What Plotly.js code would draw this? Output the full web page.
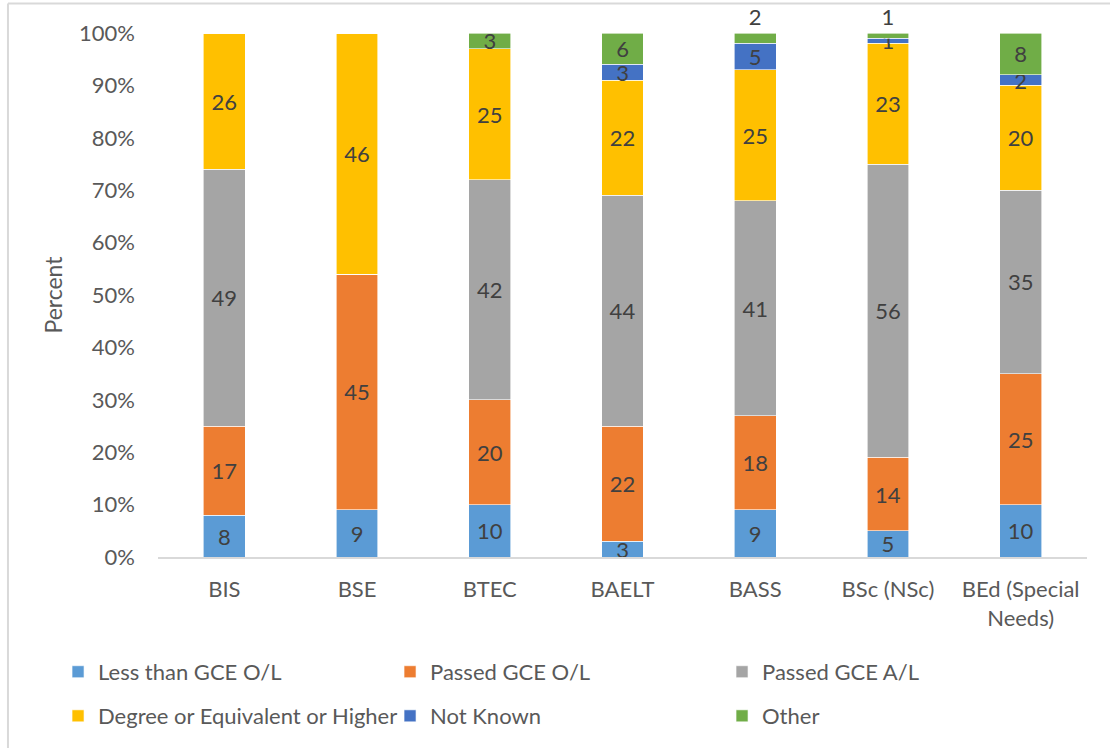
<!DOCTYPE html>
<html>
<head>
<meta charset="utf-8">
<script src="https://cdn.plot.ly/plotly-3.0.1.min.js"></script>
<style>
  html, body { margin: 0; padding: 0; background: #ffffff; }
  #chart { width: 1110px; height: 748px; }
</style>
</head>
<body>
<div id="chart"></div>
<script>
// Programmes on the x axis
const programmes = ['BIS', 'BSE', 'BTEC', 'BAELT', 'BASS', 'BSc (NSc)', 'BEd (Special<br>Needs)'];

// Share of students (%) in each qualification group, per programme
const lessThanOL   = [8, 9, 10, 3, 9, 5, 10];
const passedOL     = [17, 45, 20, 22, 18, 14, 25];
const passedAL     = [49, 0, 42, 44, 41, 56, 35];
const degreeHigher = [26, 46, 25, 22, 25, 23, 20];
const notKnown     = [0, 0, 0, 3, 5, 1, 2];
const other        = [0, 0, 3, 6, 2, 1, 8];

const seriesNames  = ['Less than GCE O/L', 'Passed GCE O/L', 'Passed GCE A/L',
                      'Degree or Equivalent or Higher', 'Not Known', 'Other'];
const seriesValues = [lessThanOL, passedOL, passedAL, degreeHigher, notKnown, other];
const seriesColors = ['#5B9BD5', '#ED7D31', '#A5A5A5', '#FFC000', '#4472C4', '#70AD47'];

const FONT = 'Lato, "Open Sans", sans-serif';
const TEXT_SIZE = 22;

const traces = seriesValues.map((vals, i) => {
  const isTop = i === seriesValues.length - 1;
  return {
    type: 'bar',
    name: seriesNames[i],
    x: programmes,
    y: vals,
    marker: { color: seriesColors[i], line: { color: 'rgba(255,255,255,0.8)', width: 0.75 } },
    text: vals.map(v => (v ? String(v) : '')),
    // very thin top segments get their label placed just above the bar
    textposition: vals.map(v => (isTop && v > 0 && v < 3 ? 'outside' : 'inside')),
    insidetextanchor: 'middle',
    constraintext: 'none',
    cliponaxis: false,
    textangle: 0,
    textfont: { family: FONT, size: TEXT_SIZE, color: '#404040' },
    outsidetextfont: { family: FONT, size: TEXT_SIZE, color: '#404040' },
    hoverinfo: 'x+y+name',
    legend: i < 3 ? 'legend' : 'legend2'
  };
});

const legendCommon = {
  orientation: 'h',
  xref: 'paper', yref: 'paper',
  xanchor: 'left', yanchor: 'middle',
  x: -0.1076,
  entrywidth: 287,
  entrywidthmode: 'pixels',
  bgcolor: 'rgba(0,0,0,0)',
  font: { family: FONT, size: TEXT_SIZE, color: '#595959' },
  traceorder: 'normal'
};

const layout = {
  width: 1110,
  height: 748,
  margin: { l: 158, r: 23, t: 33, b: 190 },
  paper_bgcolor: '#ffffff',
  plot_bgcolor: '#ffffff',
  barmode: 'stack',
  bargap: 0.685,
  font: { family: FONT, color: '#595959' },
  xaxis: {
    type: 'category',
    showgrid: false,
    showline: true,
    linecolor: '#D9D9D9',
    linewidth: 1.5,
    ticks: '',
    ticklabelstandoff: 12,
    tickfont: { family: FONT, size: TEXT_SIZE, color: '#595959' },
    fixedrange: true
  },
  yaxis: {
    range: [0, 100],
    tickvals: [0, 10, 20, 30, 40, 50, 60, 70, 80, 90, 100],
    ticktext: ['0%', '10%', '20%', '30%', '40%', '50%', '60%', '70%', '80%', '90%', '100%'],
    showgrid: false,
    zeroline: false,
    showline: false,
    ticks: '',
    ticklabelstandoff: 22,
    tickfont: { family: FONT, size: TEXT_SIZE, color: '#595959' },
    title: { text: 'Percent', font: { family: FONT, size: 23, color: '#595959' }, standoff: 10 },
    fixedrange: true
  },
  legend: Object.assign({}, legendCommon, { y: -0.217 }),
  legend2: Object.assign({}, legendCommon, { y: -0.301 }),
  shapes: [
    // chart frame (top and left edges)
    { type: 'line', xref: 'paper', yref: 'paper', x0: -0.1615, x1: 1.03, y0: 1.0562, y1: 1.0562,
      line: { color: '#D9D9D9', width: 2 } },
    { type: 'line', xref: 'paper', yref: 'paper', x0: -0.1615, x1: -0.1615, y0: 1.0562, y1: -0.37,
      line: { color: '#D9D9D9', width: 2 } }
  ]
};

Plotly.newPlot('chart', traces, layout, { displayModeBar: false, staticPlot: false });
</script>
</body>
</html>
